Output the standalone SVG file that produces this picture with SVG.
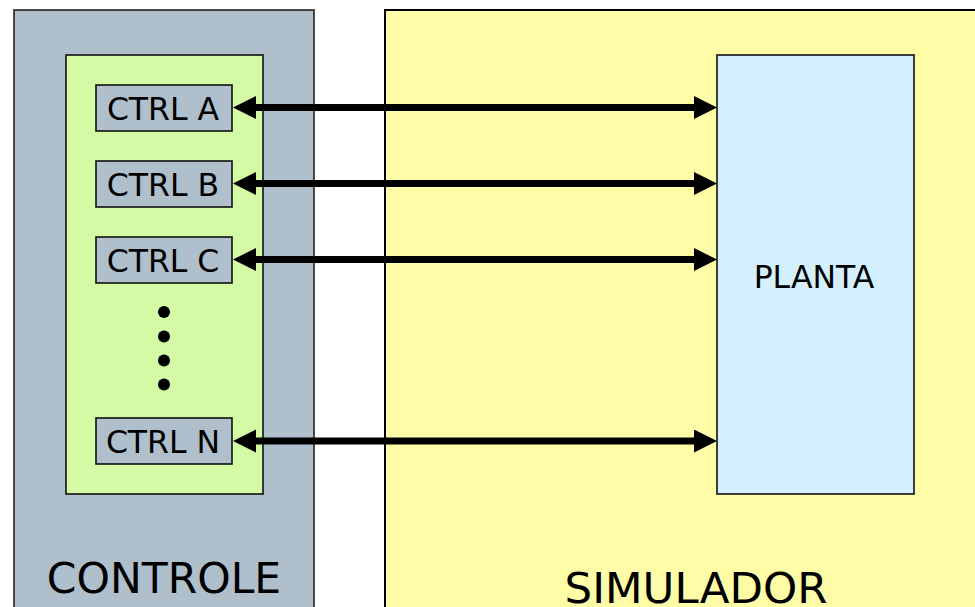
<svg xmlns="http://www.w3.org/2000/svg" width="975" height="607" viewBox="0 0 975 607">
<style>
text{font-family:"DejaVu Sans","Verdana",sans-serif;fill:#000;text-anchor:middle}
.ctrl{fill:#B0BFCC;stroke:#111;stroke-width:1.6}
.lbl{font-size:31.5px}
.big{font-size:42.5px}
.conn{stroke:#000;stroke-width:7;fill:none;marker-start:url(#ah);marker-end:url(#ah)}
</style>
<defs>
<marker id="ah" markerUnits="userSpaceOnUse" markerWidth="24" markerHeight="24" refX="1" refY="11.5" orient="auto-start-reverse" viewBox="0 0 24 24">
<path d="M0,0 L23,11.5 L0,23 z" fill="#000"/>
</marker>
</defs>
<rect width="975" height="607" fill="#fff"/>
<g id="controle">
<rect x="14" y="10" width="300" height="620" fill="#B0BFCC" stroke="#222" stroke-width="1.6"/>
<text class="big" x="164" y="593">CONTROLE</text>
</g>
<g id="simulador">
<rect x="385" y="10" width="620" height="620" fill="#FFFCA8" stroke="#000" stroke-width="2"/>
<text class="big" x="696" y="603" style="font-size:43.5px">SIMULADOR</text>
</g>
<g id="ctrl-group">
<rect x="66" y="55" width="197" height="439" fill="#D4FAA6" stroke="#111" stroke-width="1.6"/>
<circle cx="164" cy="312" r="6" fill="#000"/>
<circle cx="164" cy="336.5" r="6" fill="#000"/>
<circle cx="164" cy="360.5" r="6" fill="#000"/>
<circle cx="164" cy="384.5" r="6" fill="#000"/>
</g>
<g id="ctrl-a">
<rect class="ctrl" x="96" y="85" width="136" height="46"/>
<text class="lbl" x="163" y="120">CTRL A</text>
</g>
<g id="ctrl-b">
<rect class="ctrl" x="96" y="161" width="136" height="46"/>
<text class="lbl" x="163" y="196">CTRL B</text>
</g>
<g id="ctrl-c">
<rect class="ctrl" x="96" y="237" width="136" height="46"/>
<text class="lbl" x="163" y="272">CTRL C</text>
</g>
<g id="ctrl-n">
<rect class="ctrl" x="96" y="418" width="136" height="46"/>
<text class="lbl" x="163" y="453">CTRL N</text>
</g>
<g id="planta">
<rect x="717" y="55" width="197" height="439" fill="#D4F0FE" stroke="#111" stroke-width="1.6"/>
<text class="lbl" x="814" y="288">PLANTA</text>
</g>
<g id="connectors">
<line class="conn" x1="255" y1="107.5" x2="695" y2="107.5"/>
<line class="conn" x1="255" y1="183.5" x2="695" y2="183.5"/>
<line class="conn" x1="255" y1="259.5" x2="695" y2="259.5"/>
<line class="conn" x1="255" y1="441" x2="695" y2="441"/>
</g>
</svg>
